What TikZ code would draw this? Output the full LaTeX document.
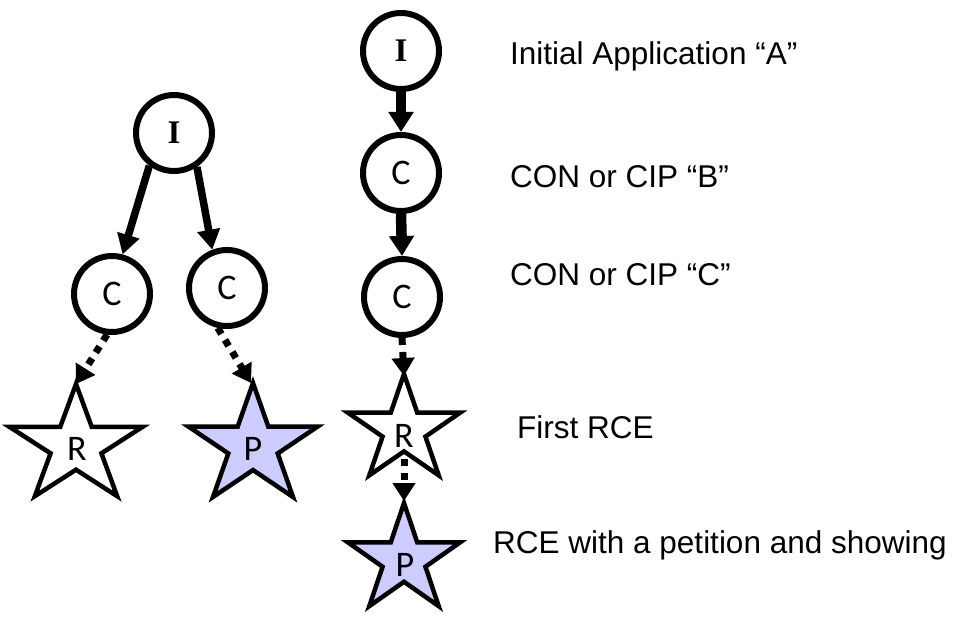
\documentclass[tikz,border=0pt]{standalone}
\usepackage{fontspec}
\setmainfont{Liberation Sans}
\newfontfamily\serifI{Liberation Serif}
\newfontfamily\calib{Carlito}
\usetikzlibrary{arrows.meta}
\definecolor{lav}{RGB}{204,204,255}
\newcommand\drawstar[5]{%
  \pgfmathsetmacro\irx{0.382*#3}%
  \pgfmathsetmacro\iry{0.382*#4}%
  \draw[starline,#5,shift={(#1,#2)}] (270:#3 and #4) -- (306:\irx\space and \iry) -- (342:#3 and #4) -- (18:\irx\space and \iry) -- (54:#3 and #4) -- (90:\irx\space and \iry) -- (126:#3 and #4) -- (162:\irx\space and \iry) -- (198:#3 and #4) -- (234:\irx\space and \iry) -- cycle;}
\begin{document}
\begin{tikzpicture}[x=1pt,y=-1pt,
  circ/.style={circle,draw,line width=6pt,minimum size=76pt,inner sep=0pt,fill=white},
  ilet/.style={font=\serifI\bfseries\fontsize{33}{36}\selectfont},
  clet/.style={font=\calib\fontsize{36}{38}\selectfont},
  starline/.style={draw=black,line width=4.5pt,line join=miter,fill=white},
  letter/.style={inner sep=0pt,font=\calib\fontsize{36}{38}\selectfont},
  label/.style={anchor=base west,inner sep=0pt,font=\fontsize{31.5}{36}\selectfont},
  solidarr/.style={line width=7.5pt,-{Triangle[length=20pt,width=22pt]}},
  solidarrb/.style={line width=10.5pt,-{Triangle[length=20pt,width=24pt]}},
  dotarr/.style={line width=7pt,dash pattern=on 7pt off 7pt,-{Triangle[length=18pt,width=22pt]}}
]
\useasboundingbox (0,0) rectangle (955,617);

% stars
\drawstar{76}{446}{70}{62}{}
\drawstar{253}{446}{68}{63}{fill=lav}
\drawstar{404}{430}{59}{56}{}
\drawstar{404}{560}{59}{57}{fill=lav}
\node[letter] (R1) at (77,449) {R};
\node[letter] (P1) at (253,449) {P};
\node[letter] (R2) at (404,436) {R};
\node[letter] (P2) at (405,565) {P};
\coordinate (R1top) at (76,384);
\coordinate (P1top) at (251,383);
\coordinate (R2top) at (404,376);
\coordinate (R2low) at (404,459);
\coordinate (P2top) at (404,501);

% circles
\node[circ,ilet] (I1) at (174,133) {I};
\node[circ,clet] (C1a) at (112,294) {C};
\node[circ,clet] (C1b) at (227,288) {C};
\node[circ,ilet] (I2) at (401,51) {I};
\node[circ,clet] (C2a) at (401,173) {C};
\node[circ,clet] (C2b) at (402,297) {C};

% connectors
\draw[solidarr] (I1.233) -- (C1a.75);
\draw[solidarr] (I1.304) -- (C1b.111);
\draw[dotarr] (C1a.263) -- (R1top);
\draw[dotarr] (C1b.257) -- (P1top);
\draw[solidarrb] (I2.south) -- (C2a.north);
\draw[solidarrb] (C2a.south) -- (C2b.north);
\draw[dotarr] (C2b.south) -- (R2top);
\draw[dotarr] (R2low) -- (P2top);

% labels
\node[label] (tA) at (510,65) {Initial Application “A”};
\node[label] (tB) at (510,188) {CON or CIP “B”};
\node[label] (tC) at (510,286) {CON or CIP “C”};
\node[label] (tR) at (517,438) {First RCE};
\node[label] (tP) at (493,553) {RCE with a petition and showing};
\end{tikzpicture}
\end{document}
